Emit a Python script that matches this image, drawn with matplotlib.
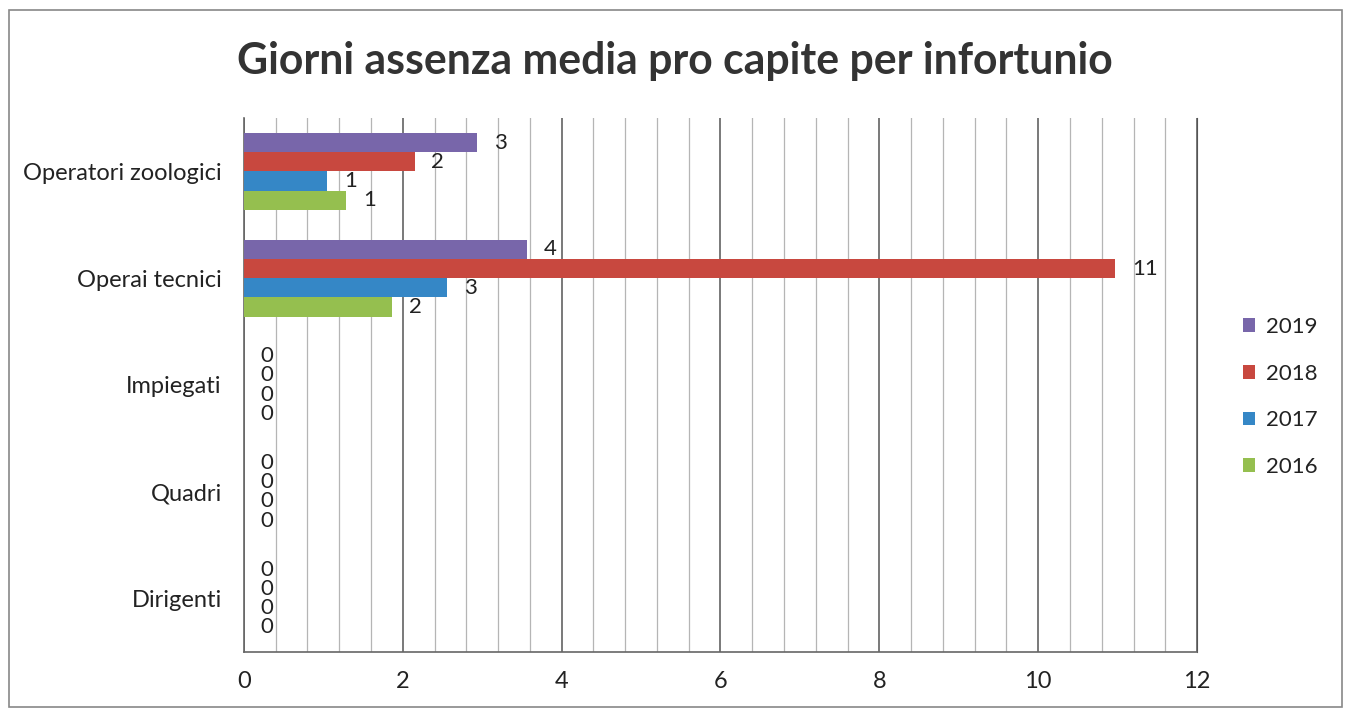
import numpy as np
import matplotlib
matplotlib.use("Agg")
import matplotlib.pyplot as plt
from matplotlib.patches import Rectangle
from matplotlib.ticker import MultipleLocator

plt.rcParams['font.family'] = ['Lato', 'DejaVu Sans']

categories = ["Operatori zoologici", "Operai tecnici", "Impiegati", "Quadri", "Dirigenti"]
years = ["2019", "2018", "2017", "2016"]
v2019 = [2.94, 3.56, 0, 0, 0]
v2018 = [2.15, 10.97, 0, 0, 0]
v2017 = [1.05, 2.56, 0, 0, 0]
v2016 = [1.29, 1.87, 0, 0, 0]
series = [v2019, v2018, v2017, v2016]
colors = ["#7866aa", "#c8483f", "#3587c6", "#95bf4f"]

fig = plt.figure(figsize=(13.5, 7.09), dpi=100)
ax = fig.add_axes([0.1807, 0.0804, 0.7060, 0.7532])

y = np.arange(len(categories))
h = 0.18
for i, (vals, col, yr) in enumerate(zip(series, colors, years)):
    pos = y - 1.5 * h + i * h
    bars = ax.barh(pos, vals, height=h, color=col, label=yr, linewidth=0, zorder=3)
    for b, v in zip(bars, vals):
        ax.annotate(f"{v:.0f}", (v, b.get_y() + h / 2), xytext=(12, 0),
                    textcoords="offset points", ha="left", va="center",
                    fontsize=16, color="#222222")

ax.set_xlim(0, 12)
ax.set_ylim(len(categories) - 0.5, -0.5)
ax.set_yticks(y)
ax.set_yticklabels(categories, fontsize=17, color="#222222")
ax.xaxis.set_major_locator(MultipleLocator(2))
ax.xaxis.set_minor_locator(MultipleLocator(0.4))
ax.tick_params(axis="both", which="both", length=0)
ax.tick_params(axis="y", pad=16)
ax.tick_params(axis="x", pad=14, labelsize=17, labelcolor="#222222")
ax.grid(axis="x", which="major", color="#555555", linewidth=1.1, zorder=0)
ax.grid(axis="x", which="minor", color="#b5b5b5", linewidth=0.9, zorder=0)
ax.set_axisbelow(True)
ax.spines["top"].set_visible(False)
ax.spines["right"].set_color("#555555")
ax.spines["left"].set_color("#666666")
ax.spines["bottom"].set_color("#666666")
ax.spines["left"].set_linewidth(1.2)
ax.spines["bottom"].set_linewidth(1.2)

fig.text(0.5, 0.914, "Giorni assenza media pro capite per infortunio",
         ha="center", va="center", fontsize=30.8, fontweight="bold", color="#333333")

leg = ax.legend(loc="center left", bbox_to_anchor=(0.914, 0.44), bbox_transform=fig.transFigure,
                frameon=False, fontsize=16, handlelength=0.55, handleheight=0.55,
                handletextpad=0.5, labelspacing=1.2, borderaxespad=0)
for t in leg.get_texts():
    t.set_color("#222222")

fig.patches.append(Rectangle((9 / 1350, 1 - 707 / 709), (1342 - 9) / 1350, (707 - 10) / 709,
                             transform=fig.transFigure, fill=False, edgecolor="#888888",
                             linewidth=1.2))

fig.savefig("out.png", dpi=100)
